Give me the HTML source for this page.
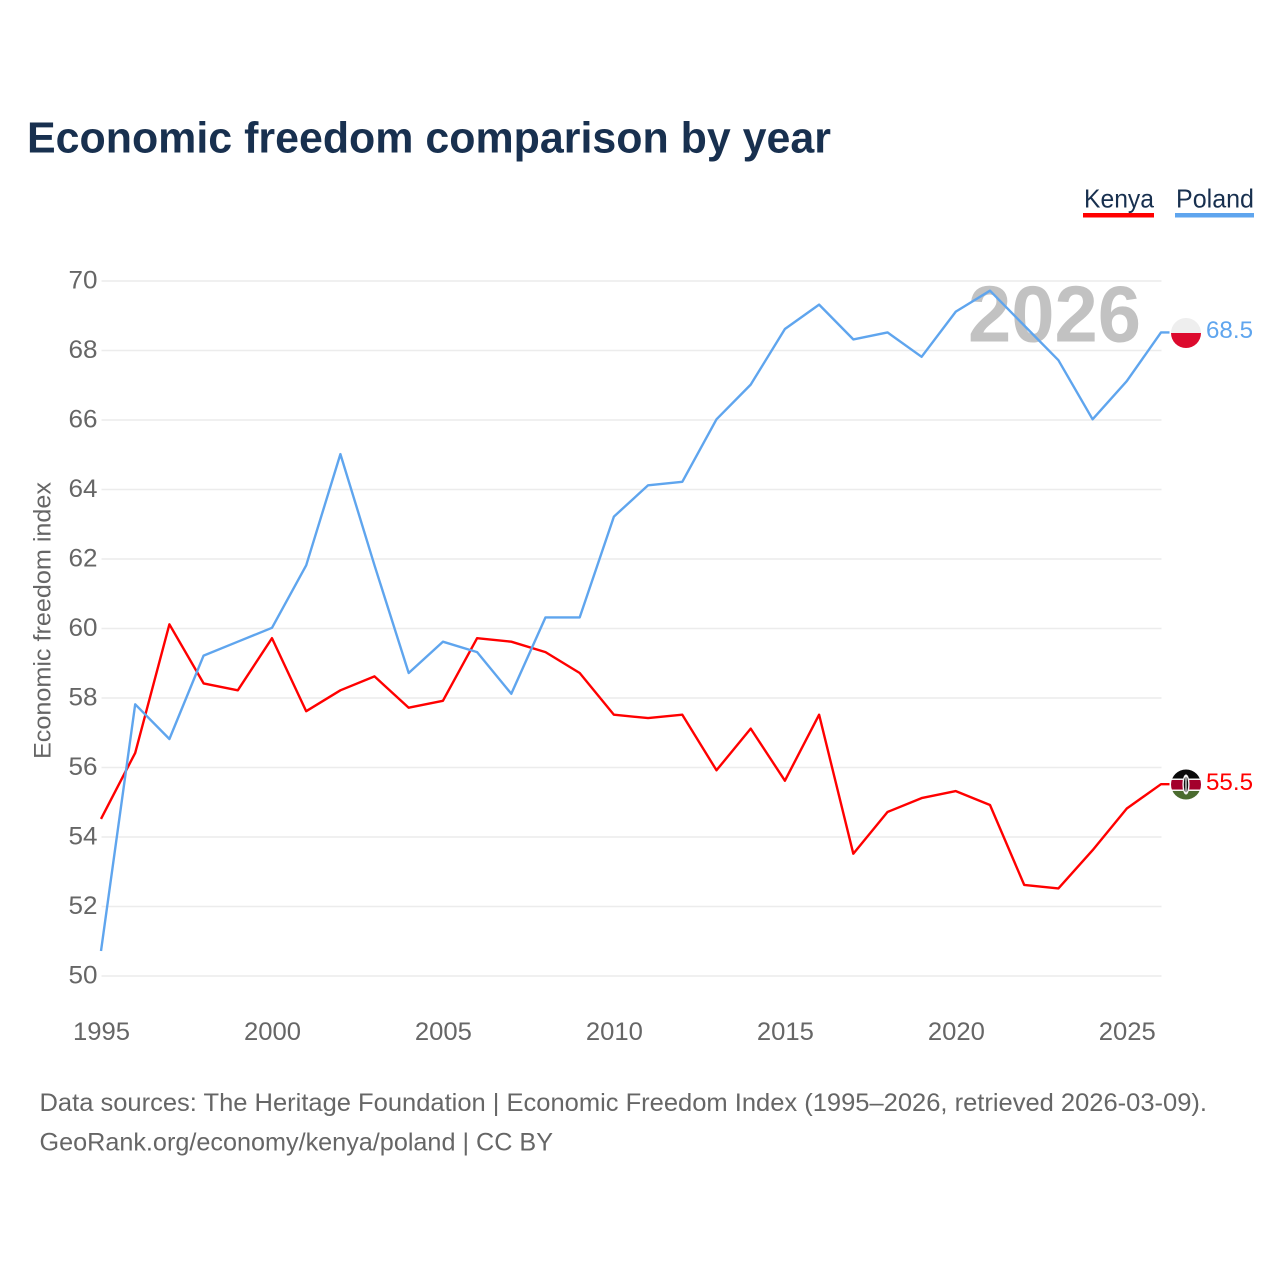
<!DOCTYPE html>
<html lang="en">
<head>
<meta charset="utf-8">
<title>Economic freedom comparison by year</title>
<style>
  html, body { margin: 0; padding: 0; background: #fff; }
  svg { display: block; font-family: "Liberation Sans", sans-serif; }
</style>
</head>
<body>
<svg id="chart" xmlns="http://www.w3.org/2000/svg" width="1280" height="1280" viewBox="0 0 1280 1280">
  <rect x="0" y="0" width="1280" height="1280" fill="#ffffff"/>
  <text x="27" y="152.5" font-size="44" font-weight="700" fill="#18304f" textLength="804" lengthAdjust="spacingAndGlyphs">Economic freedom comparison by year</text>

  <g id="grid"></g>
  <g id="yticks"></g>
  <g id="xticks"></g>
  <text transform="translate(50.5 759) rotate(-90)" font-size="24" fill="#666666" textLength="277" lengthAdjust="spacingAndGlyphs">Economic freedom index</text>

  <text x="968" y="341.5" font-size="80" font-weight="700" fill="#c2c2c2" textLength="173" lengthAdjust="spacingAndGlyphs">2026</text>

  <g id="series"></g>

  <g>
    <text x="1084" y="207.5" font-size="26" fill="#18304f" textLength="70" lengthAdjust="spacingAndGlyphs">Kenya</text>
    <rect x="1083" y="213" width="71" height="4.5" fill="#ff0000"/>
  </g>
  <g>
    <text x="1176" y="207.5" font-size="26" fill="#18304f" textLength="78" lengthAdjust="spacingAndGlyphs">Poland</text>
    <rect x="1175" y="213" width="79" height="4.5" fill="#5fa5ee"/>
  </g>

  <defs>
    <clipPath id="clip-pl"><circle cx="1186" cy="333" r="15"/></clipPath>
    <clipPath id="clip-ke"><circle cx="1186" cy="784.5" r="15"/></clipPath>
  </defs>
  <g clip-path="url(#clip-pl)">
    <rect x="1171" y="318" width="30" height="15" fill="#eeeeee"/>
    <rect x="1171" y="333" width="30" height="15" fill="#dc0a2d"/>
  </g>
  <g clip-path="url(#clip-ke)">
    <rect x="1171" y="769" width="30" height="9.5" fill="#0a0a0a"/>
    <rect x="1171" y="778.5" width="30" height="12.5" fill="#f4f4f4"/>
    <rect x="1171" y="780" width="30" height="9.5" fill="#a3002c"/>
    <rect x="1171" y="791" width="30" height="9" fill="#4a6b2f"/>
    <ellipse cx="1186" cy="784.5" rx="3.6" ry="10" fill="#f4f4f4"/>
    <ellipse cx="1186" cy="784.5" rx="2.2" ry="8" fill="#111111"/>
    <rect x="1185.4" y="776" width="1.2" height="17" fill="#f4f4f4"/>
  </g>

  <text id="label-pl" x="1206" y="338" font-size="24" fill="#5fa5ee" textLength="47" lengthAdjust="spacingAndGlyphs"></text>
  <text id="label-ke" x="1206" y="790" font-size="24" fill="#ff0000" textLength="47" lengthAdjust="spacingAndGlyphs"></text>

  <text x="39.5" y="1111" font-size="25" fill="#666666" textLength="1167.5" lengthAdjust="spacingAndGlyphs">Data sources: The Heritage Foundation | Economic Freedom Index (1995–2026, retrieved 2026-03-09).</text>
  <text x="39.5" y="1150.5" font-size="25" fill="#666666" textLength="513.5" lengthAdjust="spacingAndGlyphs">GeoRank.org/economy/kenya/poland | CC BY</text>
</svg>

<script>
const years = [1995,1996,1997,1998,1999,2000,2001,2002,2003,2004,2005,2006,2007,2008,2009,2010,2011,2012,2013,2014,2015,2016,2017,2018,2019,2020,2021,2022,2023,2024,2025,2026];
const kenyaValues = [54.5,56.4,60.1,58.4,58.2,59.7,57.6,58.2,58.6,57.7,57.9,59.7,59.6,59.3,58.7,57.5,57.4,57.5,55.9,57.1,55.6,57.5,53.5,54.7,55.1,55.3,54.9,52.6,52.5,53.6,54.8,55.5];
const polandValues = [50.7,57.8,56.8,59.2,59.6,60.0,61.8,65.0,61.8,58.7,59.6,59.3,58.1,60.3,60.3,63.2,64.1,64.2,66.0,67.0,68.6,69.3,68.3,68.5,67.8,69.1,69.7,68.7,67.7,66.0,67.1,68.5];
const yTickValues = [50,52,54,56,58,60,62,64,66,68,70];
const xTickValues = [1995,2000,2005,2010,2015,2020,2025];

const NS = 'http://www.w3.org/2000/svg';
const plotLeft = 101.5, plotRight = 1161.5, plotBottom = 976, plotTop = 281;
const lineOffsetX = -0.5, lineOffsetY = -0.7;
function xScale(year) {
  return plotLeft + (year - years[0]) / (years[years.length - 1] - years[0]) * (plotRight - plotLeft);
}
function yScale(value) {
  return plotBottom - (value - 50) / 20 * (plotBottom - plotTop);
}
function make(tag, attrs) {
  const el = document.createElementNS(NS, tag);
  for (const k in attrs) el.setAttribute(k, attrs[k]);
  return el;
}

const grid = document.getElementById('grid');
const yticks = document.getElementById('yticks');
yTickValues.forEach(function (v) {
  const line = make('line', { x1: plotLeft, x2: plotRight, y1: yScale(v), y2: yScale(v), stroke: '#ececec', 'stroke-width': 1.5 });
  
  
  grid.appendChild(line);
  const t = make('text', { x: 97.5, y: yScale(v) + 7.5, 'text-anchor': 'end', 'font-size': 25, fill: '#666666', textLength: 29, lengthAdjust: 'spacingAndGlyphs' });
  
  
  t.textContent = String(v);
  yticks.appendChild(t);
});

const xticks = document.getElementById('xticks');
xTickValues.forEach(function (yr) {
  const t = make('text', { x: xScale(yr), y: 1040, 'text-anchor': 'middle', 'font-size': 25, fill: '#666666', textLength: 57, lengthAdjust: 'spacingAndGlyphs' });
  
  
  t.textContent = String(yr);
  xticks.appendChild(t);
});

function linePath(values) {
  const pts = values.map(function (v, i) {
    return (xScale(years[i]) + lineOffsetX).toFixed(1) + ',' + (yScale(v) + lineOffsetY).toFixed(1);
  });
  const last = values[values.length - 1];
  pts.push((plotRight + 8).toFixed(1) + ',' + (yScale(last) + lineOffsetY).toFixed(1));
  return pts.join(' ');
}
const series = document.getElementById('series');
const kenyaLine = make('polyline', { points: linePath(kenyaValues), fill: 'none', stroke: '#ff0000', 'stroke-width': 2.4, 'stroke-linejoin': 'round' });


series.appendChild(kenyaLine);
const polandLine = make('polyline', { points: linePath(polandValues), fill: 'none', stroke: '#5fa5ee', 'stroke-width': 2.4, 'stroke-linejoin': 'round' });


series.appendChild(polandLine);

document.getElementById('label-pl').textContent = polandValues[polandValues.length - 1].toFixed(1);
document.getElementById('label-ke').textContent = kenyaValues[kenyaValues.length - 1].toFixed(1);
</script>
</body>
</html>
